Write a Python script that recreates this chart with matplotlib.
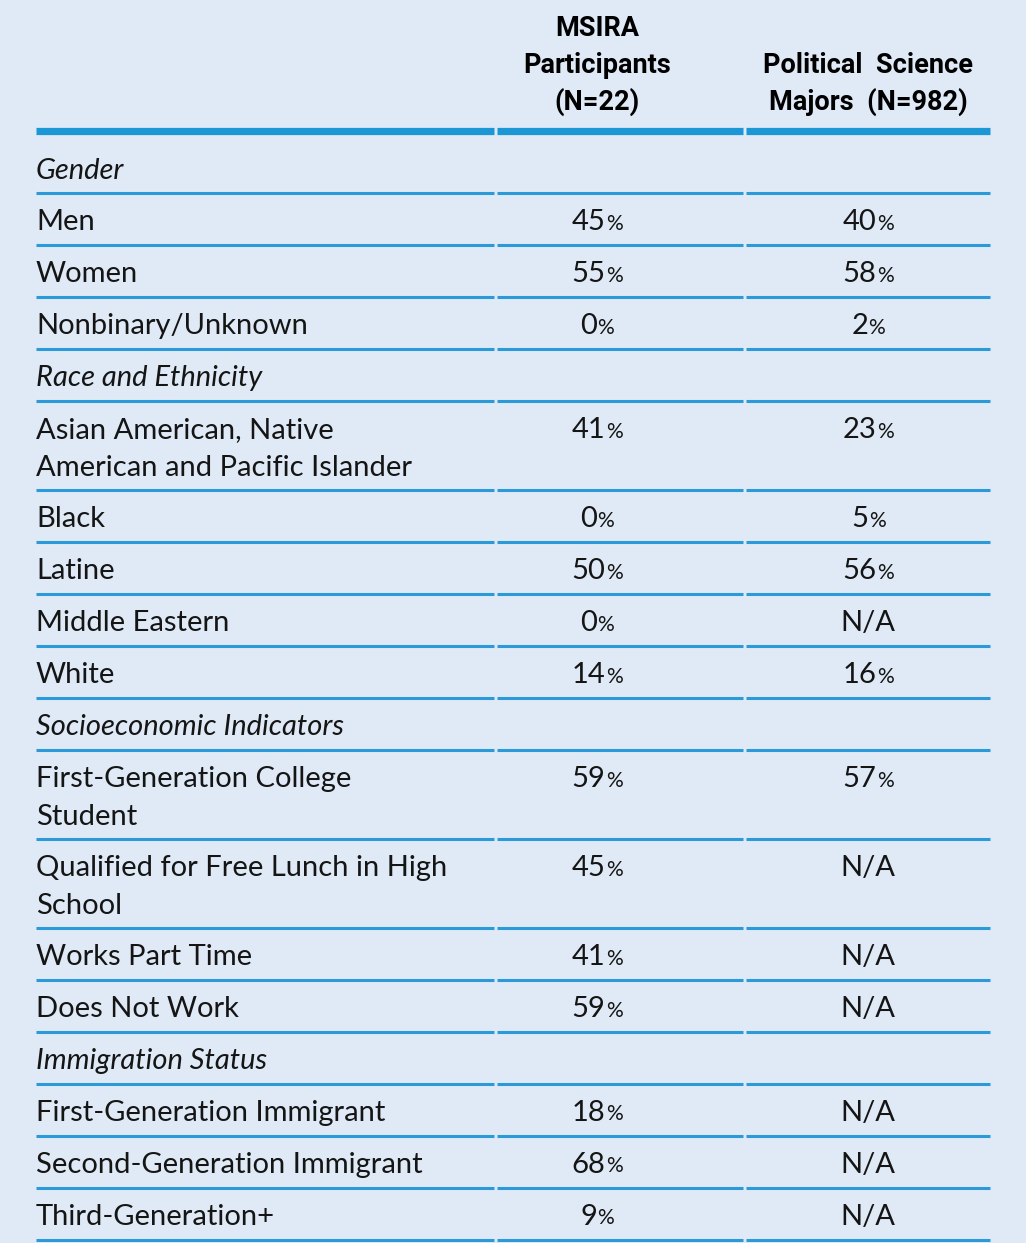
import matplotlib
matplotlib.use("Agg")
import matplotlib.pyplot as plt
from matplotlib import font_manager

# ---------------- data ----------------
col_headers = ["MSIRA\nParticipants\n(N=22)", "Political  Science\nMajors  (N=982)"]
row_labels = [
    "Gender", "Men", "Women", "Nonbinary/Unknown",
    "Race and Ethnicity", "Asian American, Native\nAmerican and Pacific Islander",
    "Black", "Latine", "Middle Eastern", "White",
    "Socioeconomic Indicators", "First-Generation College\nStudent",
    "Qualified for Free Lunch in High\nSchool", "Works Part Time", "Does Not Work",
    "Immigration Status", "First-Generation Immigrant",
    "Second-Generation Immigrant", "Third-Generation+",
]
is_section = [True, False, False, False, True, False, False, False, False, False,
              True, False, False, False, False, True, False, False, False]
msira_values = ["", "45%", "55%", "0%", "", "41%", "0%", "50%", "0%", "14%",
                "", "59%", "45%", "41%", "59%", "", "18%", "68%", "9%"]
polsci_values = ["", "40%", "58%", "2%", "", "23%", "5%", "56%", "N/A", "16%",
                 "", "57%", "N/A", "N/A", "N/A", "", "N/A", "N/A", "N/A"]

# ---------------- style ----------------
W, H = 1026, 1243
BG = "#dfeaf6"
LINE = "#2a9ad8"
THICK = "#1a97d4"
TXT = "#151515"
avail = {f.name for f in font_manager.fontManager.ttflist}
body = "Lato" if "Lato" in avail else "DejaVu Sans"
hdr = "Roboto" if "Roboto" in avail else "DejaVu Sans"

fig = plt.figure(figsize=(W / 100, H / 100), dpi=100, facecolor=BG)
ax = fig.add_axes([0, 0, 1, 1])
ax.set_xlim(0, W)
ax.set_ylim(H, 0)
ax.axis("off")
ax.set_facecolor(BG)
renderer = fig.canvas.get_renderer()

x_left, x_c1, x_c2, x_right = 36, 495, 744, 990
c1 = 597
c2 = 868
gap = 1.5
BODY_FS = 21
LSP = 38

def hline(y, lw, color):
    for a, b in [(x_left, x_c1), (x_c1, x_c2), (x_c2, x_right)]:
        ax.plot([a + (gap if a != x_left else 0), b - (gap if b != x_right else 0)],
                [y, y], color=color, lw=lw, solid_capstyle="butt")

def value(xc, yc, s):
    if s.endswith("%"):
        t1 = ax.text(0, yc, s[:-1], fontsize=BODY_FS, family=body, ha="left", va="center", color=TXT)
        t2 = ax.text(0, yc + 1.5, "%", fontsize=BODY_FS * 0.72, family=body, ha="left", va="center", color=TXT)
        w1 = t1.get_window_extent(renderer).width
        w2 = t2.get_window_extent(renderer).width
        x0 = xc - (w1 + w2) / 2
        t1.set_x(x0)
        t2.set_x(x0 + w1 + 0.5)
    else:
        ax.text(xc, yc, s, fontsize=BODY_FS, family=body, ha="center", va="center", color=TXT)

# header
for xc, head in [(c1, col_headers[0]), (c2, col_headers[1])]:
    lines = head.split("\n")
    n = len(lines)
    for i, ln in enumerate(lines):
        ax.text(xc, 102 - (n - 1 - i) * 37, ln, family=hdr, fontweight="bold",
                fontsize=19.5, color="black", ha="center", va="center")
hline(130.5, 5.2, THICK)

# rows
y = 130
for k, (lab, sec, v1, v2) in enumerate(zip(row_labels, is_section, msira_values, polsci_values)):
    lines = lab.split("\n")
    if k == 0:
        h = 63
        ty = y + 41
    else:
        h = 52 if len(lines) == 1 else 89
        ty = y + 29
    for i, ln in enumerate(lines):
        ax.text(x_left, ty + i * LSP, ln, fontsize=BODY_FS, family=body,
                style="italic" if sec else "normal", ha="left", va="center", color=TXT)
    if v1:
        value(c1, ty, v1)
    if v2:
        value(c2, ty, v2)
    y += h
    hline(y, 2.2, LINE)

fig.savefig("out.png", dpi=100, facecolor=BG)
